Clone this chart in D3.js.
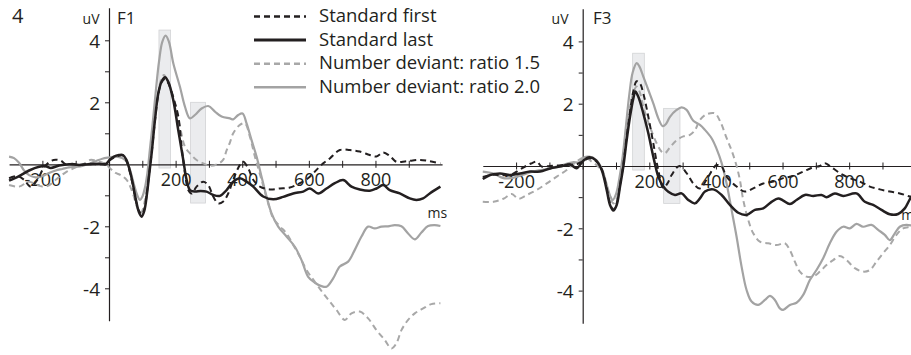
<!DOCTYPE html>
<html>
<head>
<meta charset="utf-8">
<script src="https://cdn.jsdelivr.net/npm/d3@7"></script>
<style>
  body { margin: 0; background: #fff; }
  svg { display: block; }
  text { font-family: "Open Sans", "Noto Sans", sans-serif; fill: #231f20; }
</style>
</head>
<body>
<svg id="chart" width="911" height="355"></svg>
<script>
// ---- data ----------------------------------------------------------------
const seriesNames = ["Standard first", "Standard last", "Number deviant: ratio 1.5", "Number deviant: ratio 2.0"];
const panelNames = ["F1", "F3"];
const xTickValues = [-200, -100, 0, 100, 200, 300, 400, 500, 600, 700, 800, 900];
const xTickLabels = [-200, 200, 400, 600, 800];
const yTickValues = [-4, -3, -2, -1, 1, 2, 3, 4];
const yTickLabels = [-4, -2, 2, 4];
const yUnit = "uV";
const xUnit = "ms";
const figureNumber = "4";

// [ms, uV] samples, electrode F1
const f1StandardFirst = [[-300,-0.45],[-275,-0.38],[-255,-0.5],[-235,-0.72],[-215,-0.5],[-195,-0.1],[-175,0.1],[-160,0.15],[-145,0.12],[-130,0.0],[-110,0.02],[-90,-0.02],[-60,0.02],[-30,0.0],[-10,0.03],[0,0.12],[15,0.22],[30,0.28],[42,0.28],[52,0.12],[60,-0.15],[70,-0.6],[80,-1.15],[90,-1.5],[98,-1.6],[106,-1.45],[114,-0.9],[120,-0.35],[128,0.35],[138,1.4],[148,2.25],[158,2.65],[168,2.75],[178,2.62],[193,2.15],[208,1.55],[218,0.57],[228,-0.28],[238,-0.83],[248,-0.94],[263,-0.72],[283,-0.56],[298,-0.67],[313,-1.04],[328,-1.26],[343,-1.2],[358,-0.94],[373,-0.5],[393,-0.02],[403,0.08],[418,-0.13],[433,-0.5],[453,-0.72],[483,-0.81],[513,-0.78],[543,-0.75],[573,-0.61],[603,-0.4],[623,-0.18],[643,0.03],[663,0.19],[693,0.46],[723,0.46],[753,0.41],[783,0.3],[803,0.25],[823,0.38],[843,0.27],[863,0.08],[893,0.1],[933,0.14],[963,0.1],[995,0.03]];
const f1StandardLast = [[-300,-0.53],[-270,-0.38],[-240,-0.2],[-210,-0.08],[-190,-0.06],[-175,-0.12],[-150,-0.04],[-120,0.0],[-90,-0.02],[-60,0.0],[-30,0.02],[-10,0.0],[0,0.12],[15,0.25],[30,0.3],[42,0.3],[52,0.15],[60,-0.1],[70,-0.55],[80,-1.1],[90,-1.55],[98,-1.69],[106,-1.5],[114,-0.95],[120,-0.4],[128,0.35],[138,1.43],[148,2.29],[158,2.67],[168,2.81],[178,2.66],[193,2.07],[208,1.1],[223,0.14],[233,-0.5],[243,-0.83],[258,-0.88],[275,-0.86],[293,-0.88],[313,-0.99],[333,-1.02],[353,-0.83],[373,-0.56],[393,-0.45],[413,-0.56],[433,-0.72],[463,-1.04],[493,-1.13],[523,-1.05],[553,-0.94],[583,-0.88],[603,-0.78],[628,-0.94],[653,-0.78],[678,-0.61],[703,-0.51],[728,-0.72],[753,-0.81],[783,-0.85],[803,-0.78],[823,-0.67],[843,-0.83],[873,-0.94],[903,-1.1],[923,-1.15],[943,-1.1],[963,-0.94],[995,-0.72]];
const f1Ratio15 = [[-300,-0.67],[-270,-0.72],[-240,-0.56],[-220,-0.65],[-200,-0.72],[-180,-0.68],[-160,-0.5],[-130,-0.26],[-100,-0.1],[-80,-0.02],[-57,0.14],[-35,0.1],[-10,0.0],[5,-0.15],[20,-0.28],[35,-0.35],[53,-0.5],[65,-0.75],[75,-1.05],[85,-1.4],[95,-1.58],[103,-1.4],[112,-0.85],[120,-0.2],[128,0.5],[138,1.5],[148,2.3],[157,2.75],[165,2.88],[175,2.7],[193,2.18],[213,1.21],[228,0.57],[243,0.35],[263,0.14],[283,0.03],[303,-0.05],[325,0.0],[343,0.15],[353,0.45],[363,0.7],[373,1.0],[393,1.27],[408,1.32],[423,0.89],[438,0.25],[458,-0.5],[478,-1.26],[493,-1.74],[513,-2.0],[533,-2.23],[553,-2.6],[573,-2.98],[593,-3.41],[618,-3.79],[643,-4.16],[663,-4.43],[683,-4.7],[708,-5.02],[728,-4.81],[753,-4.75],[778,-4.97],[803,-5.35],[828,-5.67],[848,-5.94],[863,-5.77],[878,-5.35],[898,-5.02],[918,-4.81],[943,-4.65],[968,-4.51],[995,-4.48]];
const f1Ratio20 = [[-300,0.25],[-285,0.2],[-270,0.05],[-255,-0.2],[-240,-0.35],[-220,-0.42],[-200,-0.38],[-180,-0.28],[-160,-0.2],[-140,-0.15],[-120,-0.1],[-100,-0.08],[-80,-0.05],[-60,0.02],[-40,0.1],[-20,0.18],[0,0.22],[20,0.25],[40,0.2],[55,0.05],[65,-0.25],[75,-0.65],[85,-1.0],[93,-1.15],[100,-1.05],[108,-0.75],[115,-0.3],[122,0.4],[130,1.2],[140,2.3],[150,3.3],[160,3.95],[170,4.15],[180,3.95],[193,3.26],[213,2.5],[228,1.86],[243,1.48],[258,1.59],[278,1.8],[298,1.88],[318,1.7],[338,1.54],[363,1.48],[373,1.45],[388,1.59],[401,1.64],[413,1.32],[428,0.78],[443,0.25],[458,-0.4],[473,-1.04],[488,-1.58],[508,-2.01],[533,-2.33],[558,-2.66],[578,-3.09],[598,-3.63],[618,-3.82],[638,-3.93],[653,-3.95],[673,-3.68],[693,-3.3],[718,-3.14],[738,-2.76],[758,-2.33],[778,-2.01],[798,-2.07],[818,-2.01],[838,-2.0],[858,-1.96],[878,-2.0],[898,-2.23],[918,-2.42],[938,-2.2],[958,-1.99],[978,-1.96],[995,-1.99]];

// [ms, uV] samples, electrode F3
const f3StandardFirst = [[-300,-0.35],[-270,-0.28],[-240,-0.3],[-215,-0.28],[-190,-0.12],[-170,0.0],[-155,0.08],[-138,0.14],[-123,-0.02],[-100,0.0],[-70,0.02],[-40,0.05],[-20,0.05],[0,0.15],[20,0.25],[40,0.15],[57,-0.1],[72,-0.7],[82,-1.2],[92,-1.4],[102,-1.2],[112,-0.6],[122,0.05],[132,0.95],[142,1.75],[152,2.4],[162,2.72],[172,2.65],[182,2.33],[197,1.58],[212,0.73],[227,-0.13],[242,-0.7],[255,-0.55],[267,-0.29],[290,0.0],[312,-0.23],[332,-0.56],[352,-0.72],[377,-0.34],[402,0.03],[417,-0.02],[432,-0.34],[462,-0.66],[487,-0.82],[512,-0.72],[542,-0.56],[572,-0.5],[602,-0.39],[632,-0.32],[662,-0.18],[692,-0.04],[712,0.0],[727,0.09],[742,0.0],[772,-0.23],[802,-0.39],[832,-0.5],[862,-0.66],[892,-0.75],[922,-0.82],[952,-0.88],[982,-0.98],[1000,-1.02]];
const f3StandardLast = [[-300,-0.42],[-278,-0.29],[-248,-0.24],[-218,-0.29],[-188,-0.24],[-158,-0.18],[-128,-0.18],[-98,-0.08],[-68,-0.02],[-38,0.05],[-18,-0.07],[2,0.17],[20,0.28],[40,0.18],[57,-0.13],[72,-0.77],[82,-1.25],[92,-1.43],[102,-1.25],[112,-0.66],[122,-0.02],[132,0.83],[142,1.58],[152,2.17],[158,2.39],[167,2.22],[182,1.69],[197,1.05],[212,0.3],[227,-0.34],[242,-0.66],[257,-0.83],[277,-0.93],[297,-0.88],[317,-1.09],[337,-1.2],[352,-1.04],[367,-0.82],[392,-0.75],[417,-0.93],[442,-1.25],[467,-1.5],[492,-1.57],[517,-1.41],[542,-1.36],[567,-1.15],[587,-1.04],[602,-1.11],[622,-1.22],[642,-1.09],[667,-0.93],[692,-0.96],[717,-0.93],[732,-1.0],[757,-0.88],[782,-0.96],[822,-0.88],[847,-1.15],[872,-1.25],[897,-1.41],[922,-1.55],[947,-1.54],[967,-1.36],[982,-1.07],[1000,-0.8]];
const f3Ratio15 = [[-300,-1.15],[-268,-1.15],[-238,-1.05],[-213,-0.9],[-193,-1.05],[-168,-0.93],[-138,-0.77],[-108,-0.56],[-78,-0.34],[-48,-0.13],[-18,0.15],[7,0.28],[27,0.14],[45,0.0],[60,-0.2],[72,-0.65],[82,-1.0],[92,-1.2],[102,-1.05],[112,-0.5],[122,0.2],[132,1.1],[142,1.9],[152,2.35],[162,2.55],[172,2.35],[182,1.9],[202,1.26],[222,0.73],[237,0.46],[247,0.41],[262,0.6],[282,0.83],[302,0.95],[322,1.0],[337,1.15],[352,1.48],[372,1.66],[397,1.69],[412,1.45],[432,0.9],[447,0.5],[462,0.0],[472,-0.45],[482,-1.09],[497,-1.73],[512,-2.16],[532,-2.43],[557,-2.48],[582,-2.54],[607,-2.48],[622,-2.7],[637,-3.07],[652,-3.39],[672,-3.55],[692,-3.55],[712,-3.39],[732,-3.18],[752,-3.02],[772,-2.89],[792,-3.02],[817,-3.28],[842,-3.39],[862,-3.34],[882,-3.07],[902,-2.8],[922,-2.54],[942,-2.21],[962,-2.0],[985,-1.95],[1000,-1.9]];
const f3Ratio20 = [[-300,-0.18],[-268,-0.24],[-238,-0.39],[-210,-0.38],[-180,-0.28],[-150,-0.18],[-120,-0.12],[-90,-0.05],[-60,0.03],[-30,0.12],[-10,0.12],[5,0.28],[20,0.3],[40,0.2],[58,-0.1],[72,-0.6],[82,-0.95],[90,-1.09],[100,-0.9],[110,-0.4],[120,0.3],[130,1.3],[140,2.3],[150,3.0],[162,3.3],[170,3.2],[182,2.87],[197,2.44],[212,2.01],[227,1.53],[240,1.28],[250,1.35],[262,1.58],[282,1.8],[297,1.88],[312,1.8],[332,1.45],[352,1.32],[367,1.16],[387,0.89],[402,0.55],[417,0.1],[432,-0.56],[447,-1.41],[462,-2.27],[477,-3.23],[492,-3.98],[507,-4.35],[527,-4.46],[547,-4.3],[562,-4.17],[577,-4.3],[592,-4.57],[602,-4.62],[622,-4.46],[642,-4.39],[662,-4.14],[682,-3.66],[702,-3.34],[722,-2.96],[742,-2.48],[762,-2.11],[782,-1.95],[802,-2.0],[822,-1.86],[842,-1.95],[867,-1.89],[887,-2.05],[907,-2.21],[922,-2.38],[937,-2.16],[952,-1.95],[972,-1.89],[1000,-1.95]];

// analysis windows: [start ms, end ms, low uV, high uV]
const f1Windows = [[150, 185, -0.12, 4.33], [245, 290, -1.25, 2.0]];
const f3Windows = [[150, 185, -0.13, 3.62], [243, 292, -1.2, 1.85]];

// ---- styles ----------------------------------------------------------------
const styles = [
  { color: "#231f20", width: 2.0, dash: "6,4" },
  { color: "#231f20", width: 2.5, dash: null },
  { color: "#a8a8a8", width: 2.0, dash: "6,4" },
  { color: "#a3a3a3", width: 2.2, dash: null }
];
const drawOrder = [3, 2, 0, 1];

const panels = [
  { name: panelNames[0], ox: 109, oy: 164.3, ky: 31.0,
    series: [f1StandardFirst, f1StandardLast, f1Ratio15, f1Ratio20], windows: f1Windows,
    uvEnd: 99.5, nameX: 117, headY: 24 },
  { name: panelNames[1], ox: 582.7, oy: 166, ky: 31.15,
    series: [f3StandardFirst, f3StandardLast, f3Ratio15, f3Ratio20], windows: f3Windows,
    uvEnd: 568.5, nameX: 593, headY: 23.5 }
];
const kx = 433 / 1300;

const svg = d3.select("#chart");

panels.forEach(p => {
  const x = d3.scaleLinear().domain([-300, 1000]).range([p.ox - 300 * kx, p.ox + 1000 * kx]);
  const y = d3.scaleLinear().domain([-5.05, 5.05]).range([p.oy + 5.05 * p.ky, p.oy - 5.05 * p.ky]);
  const g = svg.append("g");

  // shaded analysis windows
  g.selectAll("rect.win").data(p.windows).enter().append("rect")
    .attr("class", "win")
    .attr("x", d => x(d[0])).attr("width", d => x(d[1]) - x(d[0]))
    .attr("y", d => y(d[3])).attr("height", d => y(d[2]) - y(d[3]))
    .attr("fill", "#ebecee").attr("stroke", "#d2d3d5").attr("stroke-width", 0.8);

  // x axis through zero
  const xa = g.append("g").attr("transform", `translate(0,${y(0)})`)
    .call(d3.axisBottom(x).tickValues(xTickValues).tickSize(3.5).tickSizeOuter(0)
      .tickFormat(d => xTickLabels.includes(d) ? String(d) : ""));
  xa.select(".domain").attr("stroke", "#231f20").attr("stroke-width", 1.2);
  xa.selectAll(".tick line").attr("y1", -3.5).attr("stroke", "#231f20").attr("stroke-width", 1);
  xa.selectAll(".tick text").attr("y", 22).attr("dy", null)
    .style("font-size", "18px").style("font-family", '"Open Sans", sans-serif').attr("fill", "#231f20");

  // y axis at stimulus onset
  const ya = g.append("g").attr("transform", `translate(${x(0)},0)`)
    .call(d3.axisLeft(y).tickValues(yTickValues).tickSize(4).tickSizeOuter(0)
      .tickFormat(d => yTickLabels.includes(d) ? String(d) : ""));
  ya.select(".domain").attr("stroke", "#231f20").attr("stroke-width", 1.2);
  ya.selectAll(".tick line").attr("stroke", "#231f20").attr("stroke-width", 1);
  ya.selectAll(".tick text").attr("x", -9).attr("dy", "0.36em")
    .style("font-size", "19px").style("font-family", '"Open Sans", sans-serif').attr("fill", "#231f20");

  // headings and units
  g.append("text").attr("x", p.uvEnd).attr("y", p.headY).attr("text-anchor", "end")
    .style("font-size", "14px").text(yUnit);
  g.append("text").attr("x", p.nameX).attr("y", p.headY).style("font-size", "17px").text(p.name);
  g.append("text").attr("x", x(1000) + 5).attr("y", y(0) + 54).attr("text-anchor", "end")
    .style("font-size", "14px").text(xUnit);

  // waveforms
  const line = d3.line().x(d => x(d[0])).y(d => y(d[1])).curve(d3.curveCatmullRom.alpha(0.5));
  drawOrder.forEach(i => {
    const s = styles[i];
    g.append("path").datum(p.series[i])
      .attr("d", line).attr("fill", "none")
      .attr("stroke", s.color).attr("stroke-width", s.width)
      .attr("stroke-dasharray", s.dash).attr("stroke-linejoin", "round");
  });
});

// figure number
svg.append("text").attr("x", 12).attr("y", 23).style("font-size", "20px").text(figureNumber);

// legend
const legend = svg.append("g");
seriesNames.forEach((name, i) => {
  const s = styles[i];
  const by = 22 + i * 23.6;
  legend.append("line").attr("x1", 254).attr("x2", 306).attr("y1", by - 5.5).attr("y2", by - 5.5)
    .attr("stroke", s.color).attr("stroke-width", i === 1 ? 3 : 2.4).attr("stroke-dasharray", s.dash);
  legend.append("text").attr("x", 319).attr("y", by).style("font-size", "18.5px").text(name);
});
</script>
</body>
</html>
